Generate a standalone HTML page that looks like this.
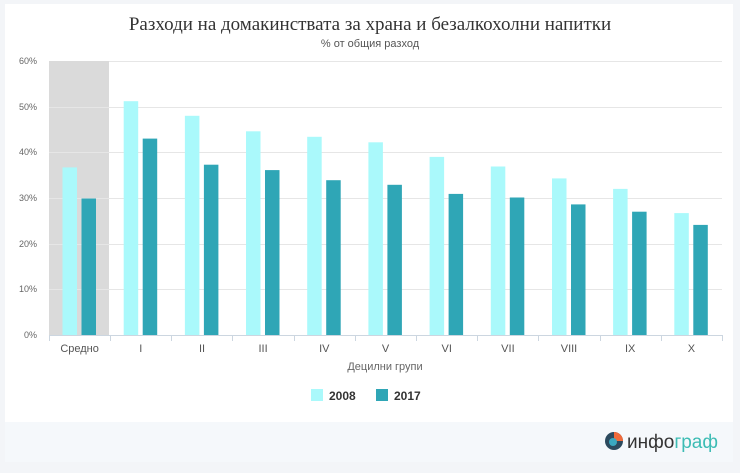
<!DOCTYPE html>
<html><head><meta charset="utf-8"><style>
html,body{margin:0;padding:0;background:#f3f5f8;}
body{width:740px;height:468px;overflow:hidden;}
</style></head><body>
<svg width="740" height="468" xmlns="http://www.w3.org/2000/svg" font-family="Liberation Sans, sans-serif">
<rect x="0" y="0" width="740" height="468" fill="#f3f5f8"/>
<rect x="5" y="4" width="728" height="418" fill="#ffffff"/>
<rect x="5" y="422" width="728" height="40" fill="#f5f8fb"/>
<text x="370" y="30" text-anchor="middle" font-family="Liberation Serif, serif" font-size="19" fill="#333">Разходи на домакинствата за храна и безалкохолни напитки</text>
<text x="370" y="47" text-anchor="middle" font-size="11" fill="#555">% от общия разход</text>
<rect x="49" y="61" width="60" height="274" fill="#dadada"/>
<g stroke="#e6e6e6" stroke-width="1">
<line x1="109" y1="61.5" x2="722" y2="61.5"/>
<line x1="49" y1="107.5" x2="722" y2="107.5"/>
<line x1="49" y1="152.5" x2="722" y2="152.5"/>
<line x1="49" y1="198.5" x2="722" y2="198.5"/>
<line x1="49" y1="244.5" x2="722" y2="244.5"/>
<line x1="49" y1="289.5" x2="722" y2="289.5"/>
</g>
<g font-size="9" fill="#666" text-anchor="end">
<text x="37" y="64">60%</text><text x="37" y="110">50%</text><text x="37" y="155">40%</text>
<text x="37" y="201">30%</text><text x="37" y="247">20%</text><text x="37" y="292">10%</text><text x="37" y="338">0%</text>
</g>
<g fill="#aaf9fb">
<rect x="62.5" y="167.4" width="14.5" height="167.6"/>
<rect x="123.7" y="101.2" width="14.5" height="233.8"/>
<rect x="184.9" y="115.8" width="14.5" height="219.2"/>
<rect x="246.0" y="131.3" width="14.5" height="203.7"/>
<rect x="307.2" y="136.8" width="14.5" height="198.2"/>
<rect x="368.4" y="142.3" width="14.5" height="192.7"/>
<rect x="429.6" y="156.9" width="14.5" height="178.1"/>
<rect x="490.8" y="166.5" width="14.5" height="168.5"/>
<rect x="552.0" y="178.4" width="14.5" height="156.6"/>
<rect x="613.1" y="188.9" width="14.5" height="146.1"/>
<rect x="674.3" y="213.1" width="14.5" height="121.9"/>
</g>
<g fill="#2fa6b6">
<rect x="81.5" y="198.5" width="14.5" height="136.5"/>
<rect x="142.7" y="138.6" width="14.5" height="196.4"/>
<rect x="203.9" y="164.7" width="14.5" height="170.3"/>
<rect x="265.0" y="170.1" width="14.5" height="164.9"/>
<rect x="326.2" y="180.2" width="14.5" height="154.8"/>
<rect x="387.4" y="184.8" width="14.5" height="150.2"/>
<rect x="448.6" y="193.9" width="14.5" height="141.1"/>
<rect x="509.8" y="197.5" width="14.5" height="137.5"/>
<rect x="571.0" y="204.4" width="14.5" height="130.6"/>
<rect x="632.1" y="211.7" width="14.5" height="123.3"/>
<rect x="693.3" y="224.9" width="14.5" height="110.1"/>
</g>
<line x1="49" y1="335.5" x2="722" y2="335.5" stroke="#ccd6e0"/>
<g stroke="#ccd6e0">
<line x1="49.5" y1="335" x2="49.5" y2="341"/><line x1="110.5" y1="335" x2="110.5" y2="341"/>
<line x1="171.5" y1="335" x2="171.5" y2="341"/><line x1="232.5" y1="335" x2="232.5" y2="341"/>
<line x1="294.5" y1="335" x2="294.5" y2="341"/><line x1="355.5" y1="335" x2="355.5" y2="341"/>
<line x1="416.5" y1="335" x2="416.5" y2="341"/><line x1="477.5" y1="335" x2="477.5" y2="341"/>
<line x1="538.5" y1="335" x2="538.5" y2="341"/><line x1="600.5" y1="335" x2="600.5" y2="341"/>
<line x1="661.5" y1="335" x2="661.5" y2="341"/><line x1="722.5" y1="335" x2="722.5" y2="341"/>
</g>
<g font-size="11" fill="#555" text-anchor="middle">
<text x="79.6" y="352">Средно</text><text x="140.8" y="352">I</text><text x="202" y="352">II</text>
<text x="263.1" y="352">III</text><text x="324.3" y="352">IV</text><text x="385.5" y="352">V</text>
<text x="446.7" y="352">VI</text><text x="507.9" y="352">VII</text><text x="569" y="352">VIII</text>
<text x="630.2" y="352">IX</text><text x="691.4" y="352">X</text>
</g>
<text x="385" y="370" text-anchor="middle" font-size="11" fill="#666">Децилни групи</text>
<rect x="311" y="389" width="12" height="12" fill="#aaf9fb"/>
<text x="329" y="400" font-size="12" font-weight="bold" fill="#333">2008</text>
<rect x="376" y="389" width="12" height="12" fill="#2fa6b6"/>
<text x="394" y="400" font-size="12" font-weight="bold" fill="#333">2017</text>
<circle cx="614" cy="441" r="9" fill="#2c4a5e"/>
<path d="M614 432 A9 9 0 0 1 623 441 L614 441 Z" fill="#f06a3a"/>
<circle cx="613" cy="442" r="4" fill="#3aa8c0"/>
<text x="627" y="448" font-size="19" fill="#333">инфо<tspan fill="#3cbcb4">граф</tspan></text>
</svg>
</body></html>
